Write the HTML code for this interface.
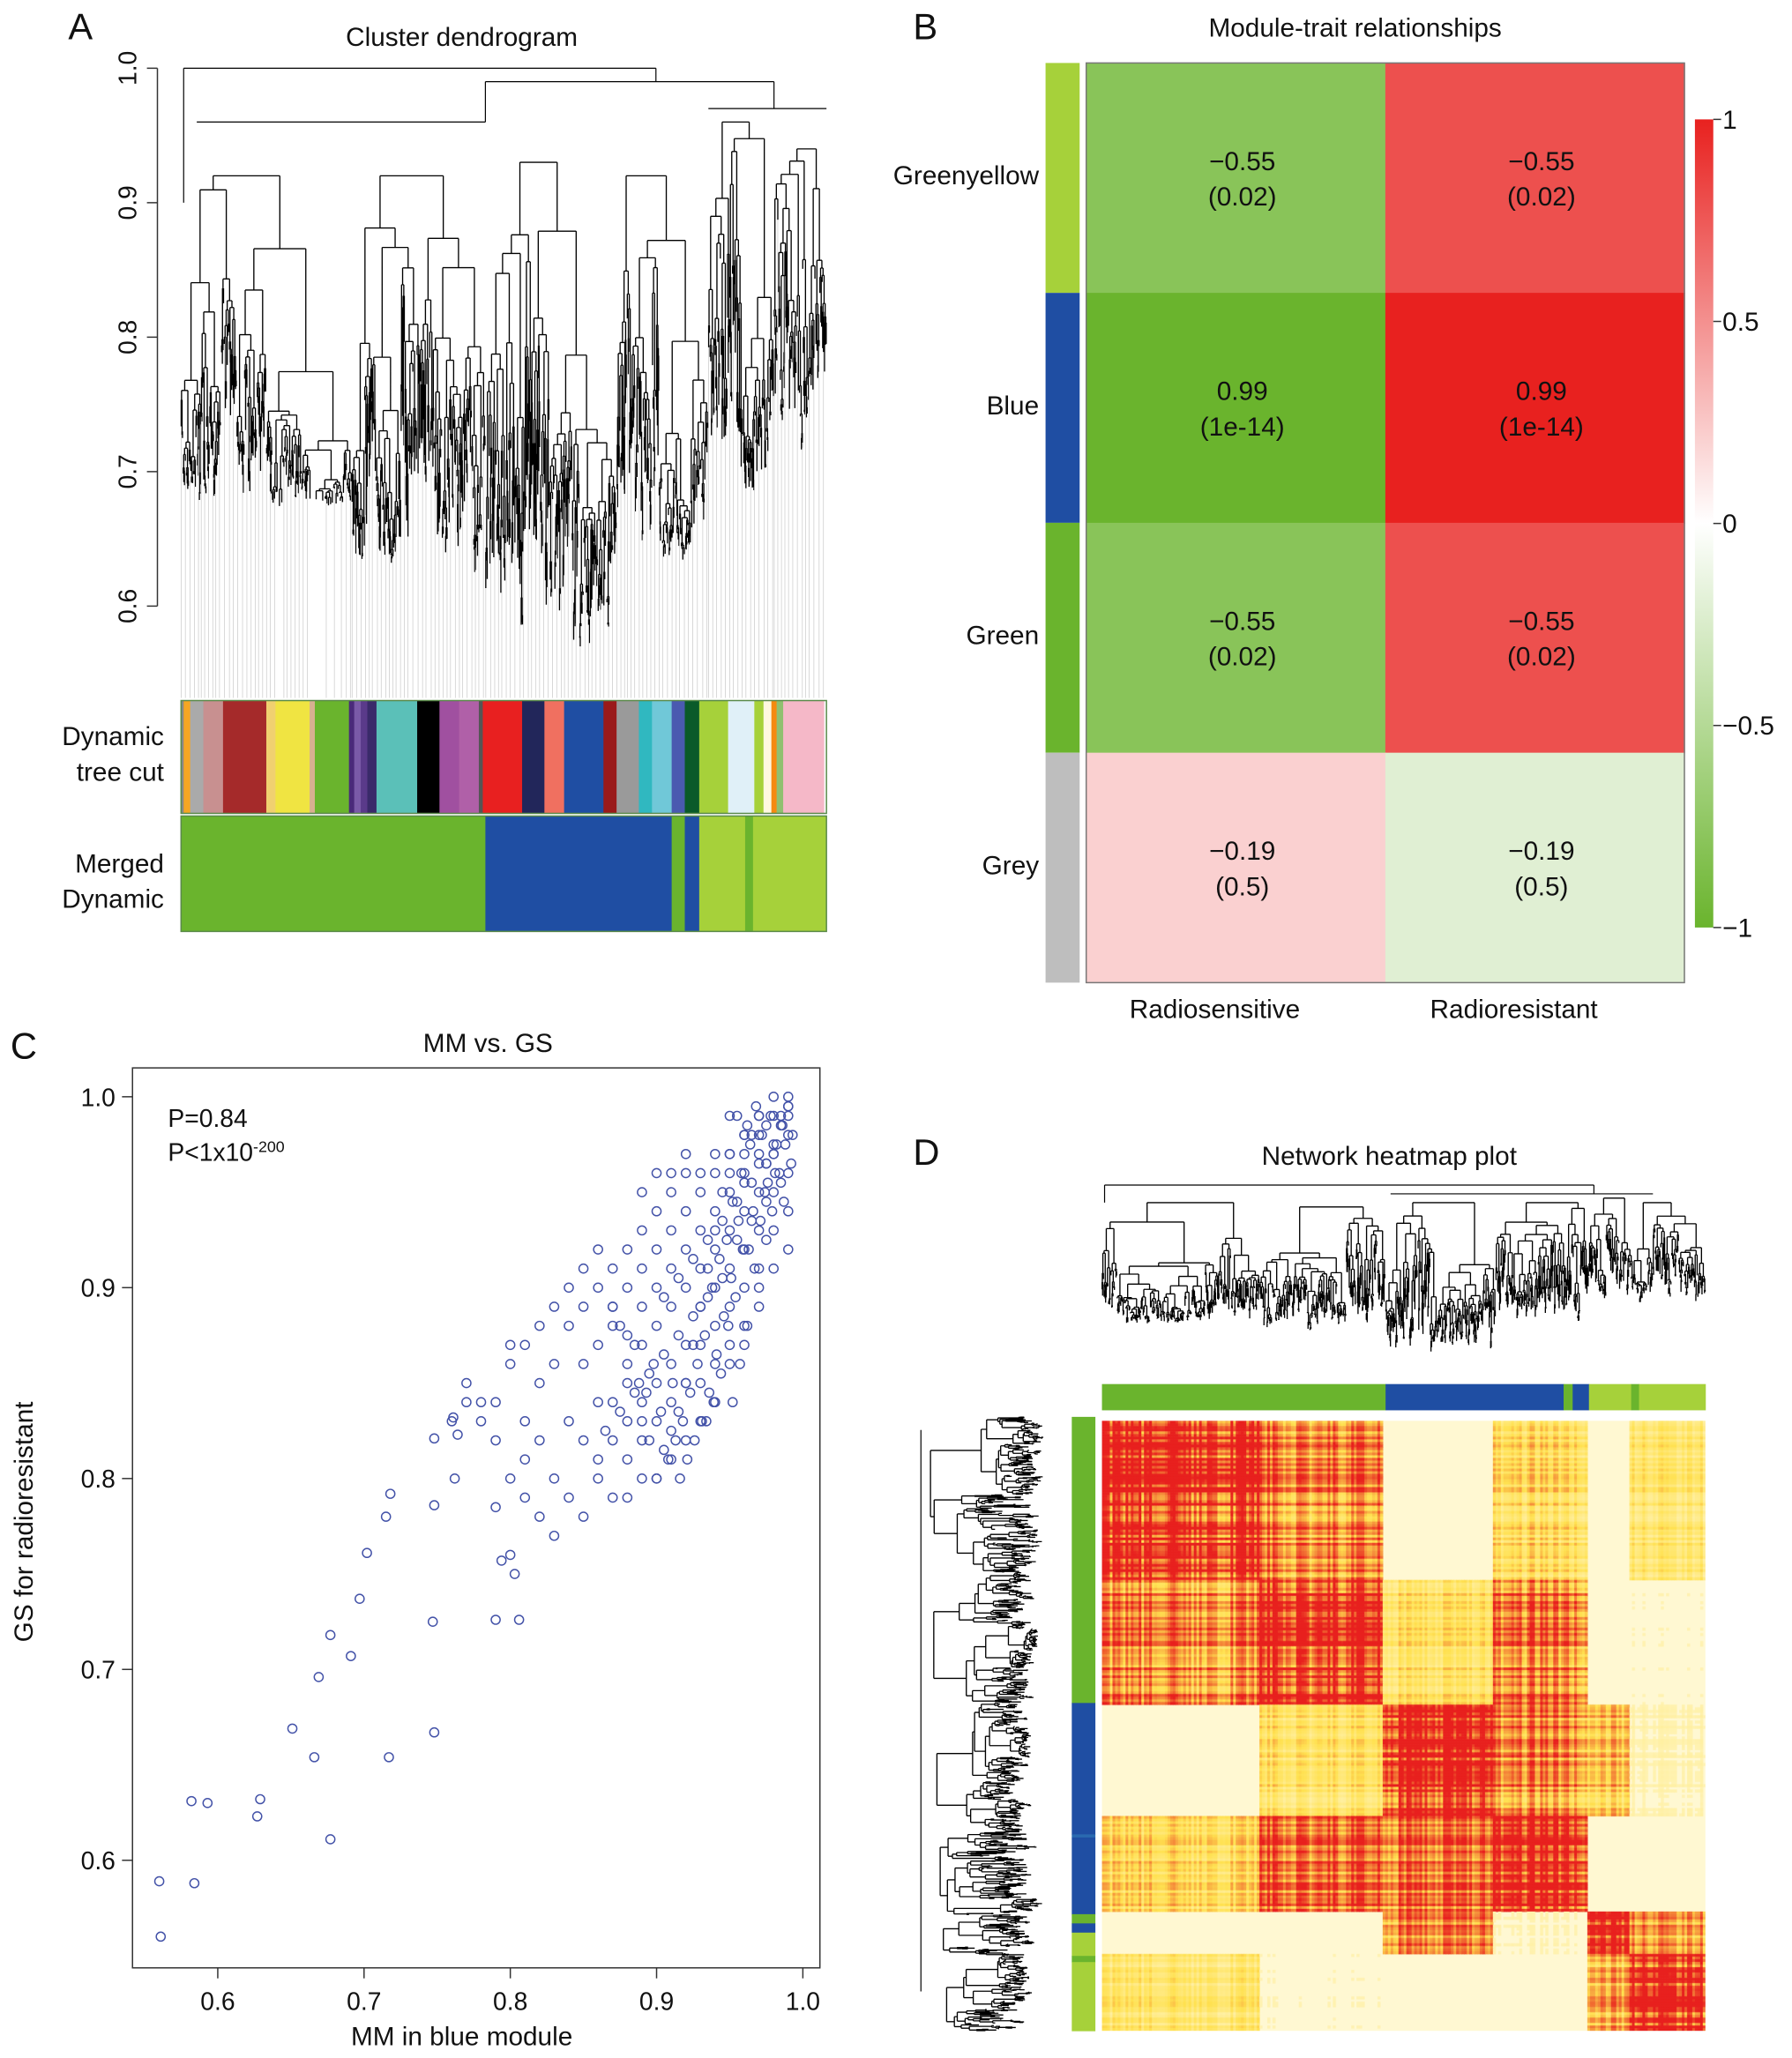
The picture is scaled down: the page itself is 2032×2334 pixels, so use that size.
<!DOCTYPE html>
<html><head><meta charset="utf-8"><style>
html,body{margin:0;padding:0;background:#fff;width:2032px;height:2327px;overflow:hidden}
#page{position:absolute;left:0;top:0;width:1366px;height:1564px;transform-origin:0 0;transform:scale(1.48755,1.48785)}
svg text{font-family:"Liberation Sans",sans-serif;fill:#111}
#hm{position:absolute;left:840px;top:1083px;width:460px;height:465px}
</style></head><body>
<div id="page">
<svg id="svg" width="1366" height="1564" viewBox="0 0 1366 1564" xmlns="http://www.w3.org/2000/svg">
<g id="A">
<text x="52" y="30" font-size="28">A</text>
<text x="352" y="35" font-size="20" text-anchor="middle">Cluster dendrogram</text>
<text x="125" y="568" font-size="20" text-anchor="end">Dynamic</text>
<text x="125" y="595" font-size="20" text-anchor="end">tree cut</text>
<text x="125" y="665" font-size="20" text-anchor="end">Merged</text>
<text x="125" y="692" font-size="20" text-anchor="end">Dynamic</text>
</g>
<g id="B">
<text x="696" y="30" font-size="28">B</text>
<text x="1033" y="28" font-size="20" text-anchor="middle">Module-trait relationships</text>
</g>
<g id="C">
<text x="8" y="807" font-size="28">C</text>
<text x="372" y="802" font-size="20" text-anchor="middle">MM vs. GS</text>
<rect x="101" y="814" width="524" height="686" fill="none" stroke="#333" stroke-width="1"/>
<text x="352" y="1559" font-size="20" text-anchor="middle">MM in blue module</text>
<text transform="translate(25,1160) rotate(-90)" font-size="20" text-anchor="middle">GS for radioresistant</text>
<text x="128" y="859" font-size="19">P=0.84</text>
<text x="128" y="885" font-size="19">P&lt;1x10<tspan dy="-7" font-size="12">-200</tspan></text>
</g>
<g id="D">
<text x="696" y="888" font-size="28">D</text>
<text x="1059" y="888" font-size="20" text-anchor="middle">Network heatmap plot</text>
</g>
</svg>
<canvas id="hm" width="920" height="930"></canvas>
</div>
<script>
const NS="http://www.w3.org/2000/svg";
const svg=document.getElementById('svg');
function mk(tag,attrs,parent){const e=document.createElementNS(NS,tag);for(const k in attrs)e.setAttribute(k,attrs[k]);(parent||svg).appendChild(e);return e;}

// ---------- Panel B data ----------
const traitCols=["Radiosensitive","Radioresistant"];
const modules=["Greenyellow","Blue","Green","Grey"];
const moduleColors=["#a6d13a","#1f4ea3","#6ab42d","#bebebe"];
const corrSens=[-0.55,0.99,-0.55,-0.19];
const corrRes=[-0.55,0.99,-0.55,-0.19];
const pvals=["(0.02)","(1e-14)","(0.02)","(0.5)"];
const cellSens=[-0.55,-0.99,-0.55,0.19];
const cellRes=[0.55,0.99,0.55,-0.19];
const legendTicks=[1,0.5,0,-0.5,-1];

// ---------- Panel C data ----------
const mmSparse=[0.56,0.561,0.582,0.584,0.593,0.629,0.627,0.677,0.651,0.666,0.669,0.677,0.691,0.717,0.748,0.697,0.702,0.715,0.718,0.747,0.748,0.79,0.806,0.748,0.764,0.762,0.794,0.803,0.761,0.77,0.78,0.79,0.8];
const gsSparse=[0.589,0.56,0.631,0.588,0.63,0.632,0.623,0.611,0.669,0.654,0.696,0.718,0.707,0.654,0.667,0.737,0.761,0.78,0.792,0.725,0.786,0.726,0.726,0.821,0.823,0.8,0.757,0.75,0.832,0.84,0.83,0.785,0.76];
const mmCloud=[.79,.80,.80,.81,.79,.78,.77,.76,.82,.81,.83,.82,.83,.84,.84,.85,.83,.84,.82,.83,.81,.85,.86,.85,.86,.84,.82,.80,.81,.85,.86,.87,.86,.87,.85,.86,.87,
.88,.88,.89,.89,.90,.90,.91,.91,.92,.92,.88,.89,.90,.91,.92,.88,.89,.90,.91,.92,.87,.88,.89,.90,.91,.92,.87,.88,.89,.90,.91,.92,.86,.87,.88,.89,.90,.91,.92,.89,.90,
.93,.93,.93,.93,.93,.93,.93,.94,.94,.94,.94,.94,.94,.94,.95,.95,.95,.95,.95,.95,.95,.96,.96,.96,.96,.96,.96,.96,.97,.97,.97,.97,.97,.97,.98,.98,.98,.98,.98,.99,.99,.99,.99,.99,.98,.97,.96,.95,.94,.93,.92,.91,.99,.985,.975,.965,.955,.945,.935,.925,.915,.905,.955,.965,.975,.985,.945,.935,.925,.915,.905,.895,.885,.875,.865,.99,.985,.98,.975,.97,.96,.95];
const gsCloud=[.84,.86,.87,.87,.82,.84,.85,.83,.85,.83,.86,.88,.89,.90,.88,.89,.80,.79,.78,.77,.79,.78,.80,.82,.84,.83,.82,.80,.81,.86,.87,.88,.90,.91,.91,.92,.89,
.92,.90,.93,.91,.94,.92,.93,.95,.94,.96,.86,.87,.88,.89,.90,.83,.84,.85,.86,.87,.82,.81,.82,.83,.84,.85,.79,.79,.80,.80,.81,.82,.81,.84,.85,.89,.90,.91,.92,.95,.96,
.95,.93,.91,.89,.87,.85,.83,.96,.94,.92,.90,.88,.86,.84,.97,.95,.93,.91,.89,.87,.86,.98,.96,.94,.92,.90,.88,.87,.99,.97,.95,.93,.91,.89,.99,.97,.95,.93,.91,.99,.98,.96,.94,.92,1.0,.98,.97,.96,.97,.96,.97,.96,1.0,.985,.965,.955,.945,.935,.925,.915,.905,.895,.925,.935,.945,.955,.905,.895,.885,.875,.865,.855,.845,.835,.825,.995,.99,.975,.985,.99,.98,.99];
const mmCloud2=[.955,.962,.968,.972,.978,.982,.986,.99,.993,.95,.958,.964,.97,.976,.98,.984,.988,.992,.945,.952,.96,.966,.974,.981,.987,.94,.948,.956,.963,.971,.979,.935,.943,.951,.959,.967,.975,.93,.938,.946,.954,.962,.97,.925,.933,.941,.949,.957,.92,.928,.936,.944,.952,.915,.923,.931,.939,.91,.918,.926,.934,.905,.913,.921,.9,.908,.916,.895,.903,.911,.89,.898,.885,.893,.88,.888,.875,.87,.965,.975];
const gsCloud2=[.99,.985,.995,.98,.99,.975,.985,.995,.98,.97,.96,.975,.965,.955,.97,.96,.975,.965,.95,.945,.955,.94,.95,.96,.945,.93,.925,.935,.92,.935,.94,.91,.915,.905,.92,.91,.925,.89,.9,.885,.895,.88,.9,.87,.875,.865,.88,.86,.85,.86,.845,.855,.84,.835,.845,.83,.84,.825,.83,.82,.83,.815,.82,.81,.8,.81,.8,.82,.835,.85,.83,.86,.87,.845,.875,.85,.88,.89,.98,.965];
const xTicks=[0.6,0.7,0.8,0.9,1.0];
const yTicks=[0.6,0.7,0.8,0.9,1.0];

// ---------- Panel A/D module bars ----------
const dynStarts=[138,140,145,155,170,203,210,236,240,266,270,275,280,287,318,335,350,365,368,398,415,430,460,470,487,497,512,522,533,555,575,582,588,592,597,628];
const dynColors=["#888","#f5a623","#aaa","#c89090","#a52a2a","#f0d070","#f0e442","#d8b090","#6ab42d","#4a2a7a","#7a5aa8","#5a3a8a","#3a2a6a","#5bc0b8","#000","#a050a0","#b060a8","#555","#e82020","#22265a","#f07060","#1f4ea3","#9a1a1a","#9a9a9a","#30b8c0","#70c8d8","#4a5ab0","#0a5a2a","#a6d13a","#e0f0f8","#a6d13a","#fff8e0","#f58a10","#90c070","#f5b8c8"];
const mergedStarts=[138,370,512,522,533,568,574,630];
const mergedColors=["#6ab42d","#1f4ea3","#6ab42d","#1f4ea3","#a6d13a","#6ab42d","#a6d13a"];
const dTopFr=[0,0.47,0.765,0.78,0.807,0.877,0.89,1];
const dTopColors=["#6ab42d","#1f4ea3","#6ab42d","#1f4ea3","#a6d13a","#6ab42d","#a6d13a"];
const dLeftFr=[0,0.466,0.68,0.685,0.81,0.825,0.84,0.878,0.888,1];
const dLeftColors=["#6ab42d","#1f4ea3","#2a6ab0","#1f4ea3","#6ab42d","#1f4ea3","#a6d13a","#6ab42d","#a6d13a"];

// ---------- Panel D heatmap data ----------
const segFr=[0,0.26,0.466,0.65,0.805,0.873,1];
const tomMatrix=[[0.95,0.7,0.05,0.45,0,0.35],[0.7,0.95,0.4,0.75,0,0.08],[0.05,0.4,0.95,0.7,0.55,0.12],[0.45,0.75,0.7,0.92,0.04,0],[0,0.04,0.65,0.1,0.95,0.6],[0.35,0.08,0.04,0,0.6,0.9]];

// seeded generator used only for dendrogram/texture decoration
let seed=12345;function rnd(){seed=(seed*1103515245+12345)%2147483648;return seed/2147483648;}

// ===== Panel A dendrogram =====
const gA=document.getElementById('A');
function yA(v){return 52+(1.0-v)*1025;}
mk('line',{x1:120,y1:yA(1.0),x2:120,y2:yA(0.6),stroke:'#333','stroke-width':1},gA);
[1.0,0.9,0.8,0.7,0.6].forEach(v=>{
  const t=mk('line',{x1:112,y1:yA(v),x2:120,y2:yA(v),stroke:'#333'},gA);
  
  const tx=mk('text',{transform:`translate(104,${yA(v)}) rotate(-90)`,'font-size':19,'text-anchor':'middle'},gA);
  tx.textContent=v.toFixed(1);
  
});
function buildTree(u0,u1,v,vmin,minW,segs,leaves){
  if(u1-u0<minW||v<vmin+0.02){leaves.push([(u0+u1)/2,v]);return (u0+u1)/2;}
  const s=u0+(u1-u0)*(0.12+0.76*rnd());
  const span=v-vmin;
  const vl=v-span*(0.03+0.25*rnd()*rnd()*2);
  const vr=v-span*(0.03+0.25*rnd()*rnd()*2);
  const cl=buildTree(u0,s,vl,vmin,minW,segs,leaves);
  const cr=buildTree(s,u1,vr,vmin,minW,segs,leaves);
  segs.push([cl,v,cr,v]);segs.push([cl,v,cl,vl]);segs.push([cr,v,cr,vr]);
  return (cl+cr)/2;
}
function drawTree(g,name,u0,u1,vtop,vmin,minW,mapU,mapV,horizontal,leafEnd){
  const segs=[],leaves=[];
  buildTree(u0,u1,vtop,vmin,minW,segs,leaves);
  let d='';
  segs.forEach(s=>{
    if(!horizontal)d+=`M${mapU(s[0]).toFixed(1)} ${mapV(s[1]).toFixed(1)}L${mapU(s[2]).toFixed(1)} ${mapV(s[3]).toFixed(1)}`;
    else d+=`M${mapV(s[1]).toFixed(1)} ${mapU(s[0]).toFixed(1)}L${mapV(s[3]).toFixed(1)} ${mapU(s[2]).toFixed(1)}`;
  });
  const p=mk('path',{d:d,stroke:'#000','stroke-width':0.9,fill:'none'},g);
  
  if(leafEnd!==null){
    let d2='';leaves.forEach((l,i)=>{if(i%6===0)d2+=`M${mapU(l[0]).toFixed(1)} ${mapV(l[1]).toFixed(1)}L${mapU(l[0]).toFixed(1)} ${leafEnd}`;});
    const p2=mk('path',{d:d2,stroke:'#ccc','stroke-width':0.5,fill:'none'},g);
    
  }
}
seed=777;
(function(){
  const g=gA;
  let d='';
  d+=`M140 ${yA(1.0)}L500 ${yA(1.0)}M140 ${yA(1.0)}L140 ${yA(0.9)}M500 ${yA(1.0)}L500 ${yA(0.99)}M370 ${yA(0.99)}L590 ${yA(0.99)}M370 ${yA(0.99)}L370 ${yA(0.96)}M590 ${yA(0.99)}L590 ${yA(0.97)}M150 ${yA(0.96)}L370 ${yA(0.96)}M540 ${yA(0.97)}L630 ${yA(0.97)}`;
  const p=mk('path',{d:d,stroke:'#000','stroke-width':0.8,fill:'none'},g);
  
  const parts=[[138,268,0.92,0.66],[268,370,0.92,0.6],[370,470,0.93,0.55],[470,540,0.92,0.62],[540,590,0.96,0.66],[590,630,0.94,0.7]];
  parts.forEach((pt,i)=>drawTree(g,'dendrogram-branch-'+i,pt[0],pt[1],pt[2],pt[3],0.9,u=>u,yA,false,532));
})();
for(let i=0;i<dynColors.length;i++){
  const r=mk('rect',{x:dynStarts[i],y:534,width:dynStarts[i+1]-dynStarts[i]+0.3,height:86,fill:dynColors[i]},gA);
  
}
for(let i=0;i<mergedColors.length;i++){
  const r=mk('rect',{x:mergedStarts[i],y:622,width:mergedStarts[i+1]-mergedStarts[i]+0.3,height:88,fill:mergedColors[i]},gA);
  
}
mk('rect',{x:138,y:534,width:492,height:86,fill:'none',stroke:'#5a8a4a','stroke-width':1},gA);
mk('rect',{x:138,y:622,width:492,height:88,fill:'none',stroke:'#5a8a4a','stroke-width':1},gA);

// ===== Panel B =====
const gB=document.getElementById('B');
const bX0=828,bX1=1284,bY0=48,bY1=749,colW=(bX1-bX0)/traitCols.length,rowH=(bY1-bY0)/modules.length;
function corrColor(c){
  const lerp=(a,b,t)=>Math.round(a+(b-a)*t);
  const t=Math.max(0,Math.min(1,1.61*Math.abs(c)-0.096));
  if(c>=0){return `rgb(${lerp(255,232,t)},${lerp(255,33,t)},${lerp(255,31,t)})`;}
  return `rgb(${lerp(255,106,t)},${lerp(255,180,t)},${lerp(255,45,t)})`;
}
modules.forEach((m,i)=>{
  const y=bY0+i*rowH;
  const s=mk('rect',{x:797,y:y,width:26,height:rowH,fill:moduleColors[i]},gB);
  
  const lb=mk('text',{x:792,y:y+rowH/2+5,'font-size':20,'text-anchor':'end'},gB);lb.textContent=m;
  
  [[cellSens,corrSens],[cellRes,corrRes]].forEach((arr,j)=>{
    const x=bX0+j*colW;
    const r=mk('rect',{x:x,y:y,width:colW+0.5,height:rowH+0.5,fill:corrColor(arr[0][i])},gB);
    
    const v=arr[1][i];
    const t1=mk('text',{x:x+colW/2+5,y:y+rowH/2-6,'font-size':20,'text-anchor':'middle'},gB);
    t1.textContent=(v<0?'\u2212'+Math.abs(v):String(v));
    
    const t2=mk('text',{x:x+colW/2+5,y:y+rowH/2+21,'font-size':20,'text-anchor':'middle'},gB);
    t2.textContent=pvals[i];
    
  });
});
mk('rect',{x:bX0,y:bY0,width:bX1-bX0,height:bY1-bY0,fill:'none',stroke:'#777','stroke-width':1},gB);
traitCols.forEach((c,j)=>{const t=mk('text',{x:bX0+j*colW+colW/2-16,y:776,'font-size':20,'text-anchor':'middle'},gB);t.textContent=c;
  });
const defs=mk('defs',{});
const lg=mk('linearGradient',{id:'lg',x1:0,y1:0,x2:0,y2:1},defs);
[[0,'#e8211f'],[0.5,'#ffffff'],[1,'#6ab42d']].forEach(s=>mk('stop',{offset:s[0],'stop-color':s[1]},lg));
const lgY0=91,lgY1=707;
mk('rect',{x:1292,y:lgY0,width:14,height:lgY1-lgY0,fill:'url(#lg)'},gB);
function yLeg(v){return lgY0+(1-v)/2*(lgY1-lgY0);}
legendTicks.forEach(v=>{
  mk('line',{x1:1306,x2:1312,y1:yLeg(v),y2:yLeg(v),stroke:'#333'},gB);
  const t=mk('text',{x:1313,y:yLeg(v)+7,'font-size':20},gB);t.textContent=(v<0?'\u2212'+Math.abs(v):String(v));
  
});

// ===== Panel C scatter =====
const gC=document.getElementById('C');
function sx(v){return 166+(v-0.6)*1115;}
function sy(v){return 836+(1.0-v)*1455;}
xTicks.forEach(v=>{
  mk('line',{x1:sx(v),x2:sx(v),y1:1500,y2:1508,stroke:'#333'},gC);
  const t=mk('text',{x:sx(v),y:1532,'font-size':19,'text-anchor':'middle'},gC);t.textContent=v.toFixed(1);
  
});
yTicks.forEach(v=>{
  mk('line',{x1:93,x2:101,y1:sy(v),y2:sy(v),stroke:'#333'},gC);
  const t=mk('text',{x:88,y:sy(v)+7,'font-size':19,'text-anchor':'end'},gC);t.textContent=v.toFixed(1);
  
});
function pts(xs,ys){for(let i=0;i<xs.length;i++){
  const c=mk('circle',{cx:sx(xs[i]),cy:sy(ys[i]),r:3.4,fill:'none',stroke:'#4352a8','stroke-width':1},gC);
  }}
pts(mmSparse,gsSparse);pts(mmCloud,gsCloud);pts(mmCloud2,gsCloud2);

// ===== Panel D =====
const gD=document.getElementById('D');
seed=4242;
(function(){
  const mapV=v=>900+(1.0-v)*(150/0.45);
  let d=`M842 ${mapV(0.99)}L1215 ${mapV(0.99)}M842 ${mapV(0.99)}L842 ${mapV(0.95)}M1215 ${mapV(0.99)}L1215 ${mapV(0.97)}M1060 ${mapV(0.97)}L1260 ${mapV(0.97)}`;
  const p=mk('path',{d:d,stroke:'#000','stroke-width':0.8,fill:'none'},gD);
  [[840,960,0.95,0.66],[960,1056,0.94,0.64],[1056,1140,0.95,0.58],[1140,1210,0.95,0.66],[1210,1245,0.96,0.7],[1245,1300,0.95,0.7]]
    .forEach((pt,i)=>drawTree(gD,'top-dendrogram-'+i,pt[0],pt[1],pt[2],pt[3],0.8,u=>u,mapV,false,null));
  const H0=1080,H=468;
  const mapH=v=>702+(1.0-v)*(110/0.45);
  const segs=[0,0.253,0.466,0.675,0.811,0.878,1];
  for(let i=0;i<6;i++)drawTree(gD,'left-dendrogram-'+i,H0+segs[i]*H,H0+segs[i+1]*H,0.97-0.01*i,0.6+0.02*(i%3),0.8,u=>u,mapH,true,null);
  const p2=mk('path',{d:`M${mapH(1.0)} ${H0+10}L${mapH(1.0)} ${H0+H-30}`,stroke:'#000','stroke-width':0.8},gD);
})();
for(let i=0;i<dTopColors.length;i++){
  const r=mk('rect',{x:840+dTopFr[i]*460,y:1055,width:(dTopFr[i+1]-dTopFr[i])*460+0.3,height:20,fill:dTopColors[i]},gD);
  
}
for(let i=0;i<dLeftColors.length;i++){
  const r=mk('rect',{x:817,y:1080+dLeftFr[i]*468,width:18,height:(dLeftFr[i+1]-dLeftFr[i])*468+0.3,fill:dLeftColors[i]},gD);
  
}
(function(){
  const cv=document.getElementById('hm'),ctx=cv.getContext('2d');
  const W=cv.width,Hh=cv.height;
  ctx.fillStyle='#fff8d2';ctx.fillRect(0,0,W,Hh);
  seed=99;
  const N=230;const colN=[],rowN=[];
  for(let i=0;i<N;i++){colN.push(rnd());rowN.push(rnd());}
  function seg(f){for(let k=0;k<6;k++)if(f<segFr[k+1])return k;return 5;}
  const cw=W/N,ch=Hh/N;
  for(let r=0;r<N;r++){const sr=seg((r+0.5)/N);
    for(let c=0;c<N;c++){const sc=seg((c+0.5)/N);
      const m=tomMatrix[sr][sc];if(m<=0.01)continue;
      let v=m*(0.45+0.6*(rowN[r]+colN[c]));
      if(v<0.12)continue;v=Math.min(1,v);
      let R,G,B;
      if(v<0.5){const t=v/0.5;R=255;G=Math.round(248-(248-225)*t);B=Math.round(210-(210-80)*t);}
      else{const t=(v-0.5)/0.5;R=Math.round(255-(255-232)*t);G=Math.round(225-(225-32)*t);B=Math.round(80-(80-30)*t);}
      ctx.fillStyle=`rgb(${R},${G},${B})`;ctx.fillRect(c*cw,r*ch,cw+0.6,ch+0.6);
    }}
})();
</script>
</body></html>
